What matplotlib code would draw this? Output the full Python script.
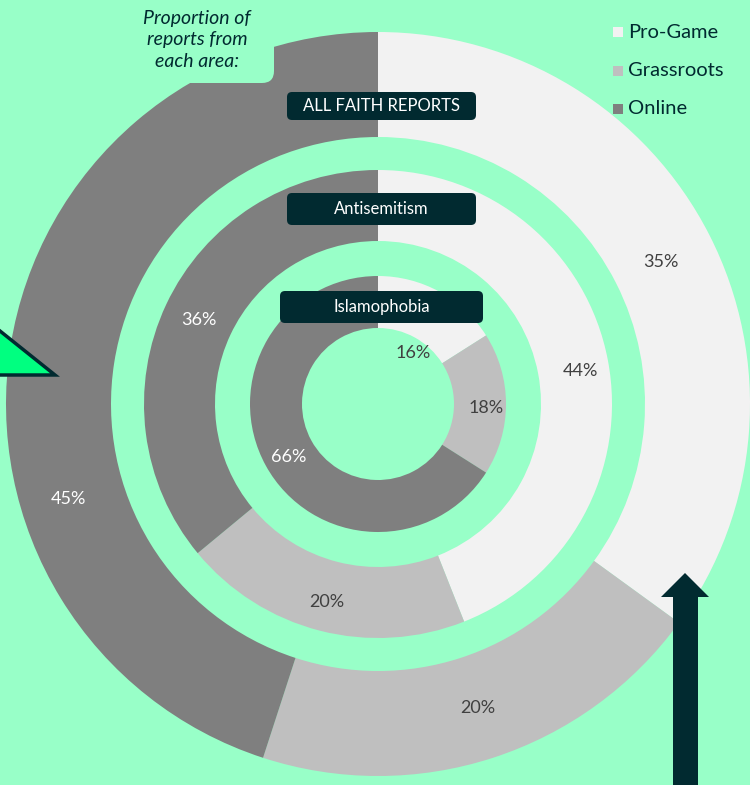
import matplotlib.pyplot as plt
from matplotlib.patches import FancyBboxPatch, Polygon

plt.rcParams['font.family'] = ['Lato', 'DejaVu Sans']

# data
areas = ['Pro-Game', 'Grassroots', 'Online']
all_faith = [35, 20, 45]
antisemitism = [44, 20, 36]
islamophobia = [16, 18, 66]
ring_titles = ['ALL FAITH REPORTS', 'Antisemitism', 'Islamophobia']

bg = '#98ffc8'
dark = '#012a30'
cols = ['#f2f2f2', '#bfbfbf', '#7f7f7f']
txtcols = ['#404040', '#404040', 'white']

W, H = 750, 785
fig = plt.figure(figsize=(W / 100, H / 100), dpi=100, facecolor=bg)
ax = fig.add_axes([0, 0, 1, 1])
ax.set_facecolor(bg)

cx, cy = 378, H - 404
# radius, ring width, label spots (pixel coords of the original layout)
rings = [
    (all_faith, 372, 105, [(661, 262), (478, 708), (68, 499)]),
    (antisemitism, 234, 71, [(580, 371), (327, 602), (199, 320)]),
    (islamophobia, 128, 52, [(413, 353), (486, 408), (289, 457)]),
]
for vals, r, w, spots in rings:
    wedges, texts = ax.pie(vals, radius=r, center=(cx, cy), startangle=90,
                           counterclock=False, colors=cols,
                           wedgeprops=dict(width=w, linewidth=0),
                           labels=[f'{v}%' for v in vals],
                           textprops=dict(fontsize=13))
    for t, c, (x, y) in zip(texts, txtcols, spots):
        t.set_color(c)
        t.set_position((x, H - y))
        t.set_ha('center')
        t.set_va('center')

# cut out corner for the note
ax.add_patch(FancyBboxPatch((-60, H - 83), 334, 140,
                            boxstyle='round,pad=0,rounding_size=12',
                            fc=bg, ec='none', zorder=3))
ax.text(197, H - 40, 'Proportion of\nreports from\neach area:', ha='center',
        va='center', fontsize=14, style='italic', color=dark,
        linespacing=1.35, zorder=4)

# ring title boxes
boxes = [(287, 92, 189, 28), (287, 193, 189, 32), (280, 291, 203, 32)]
for (x, y, bw, bh), t in zip(boxes, ring_titles):
    ax.add_patch(FancyBboxPatch((x, H - y - bh), bw, bh,
                                boxstyle='round,pad=0,rounding_size=5',
                                fc=dark, ec='none', zorder=5))
    ax.text(x + bw / 2, H - y - bh / 2, t, ha='center', va='center',
            color='white', fontsize=12, zorder=6)

# legend
for i, (a, c) in enumerate(zip(areas, cols)):
    y = H - (32 + 38.5 * i)
    ax.add_patch(plt.Rectangle((613, y - 5), 10, 10, fc=c, ec='none'))
    ax.text(628, y, a, ha='left', va='center', fontsize=14.5, color=dark)

# decorations
ax.add_patch(Polygon([(-20, H - 315), (55, H - 375), (-20, H - 375)],
                     closed=True, fc='#00ff80', ec=dark, lw=2.5, zorder=4))
ax.add_patch(Polygon([(673, 0), (673, H - 597), (661, H - 597), (685, H - 573),
                      (709, H - 597), (698, H - 597), (698, 0)],
                     closed=True, fc=dark, ec='none', zorder=4))

ax.set_xlim(0, W)
ax.set_ylim(0, H)
ax.set_aspect('equal')
ax.axis('off')

fig.savefig('out.png', dpi=100, facecolor=bg)
